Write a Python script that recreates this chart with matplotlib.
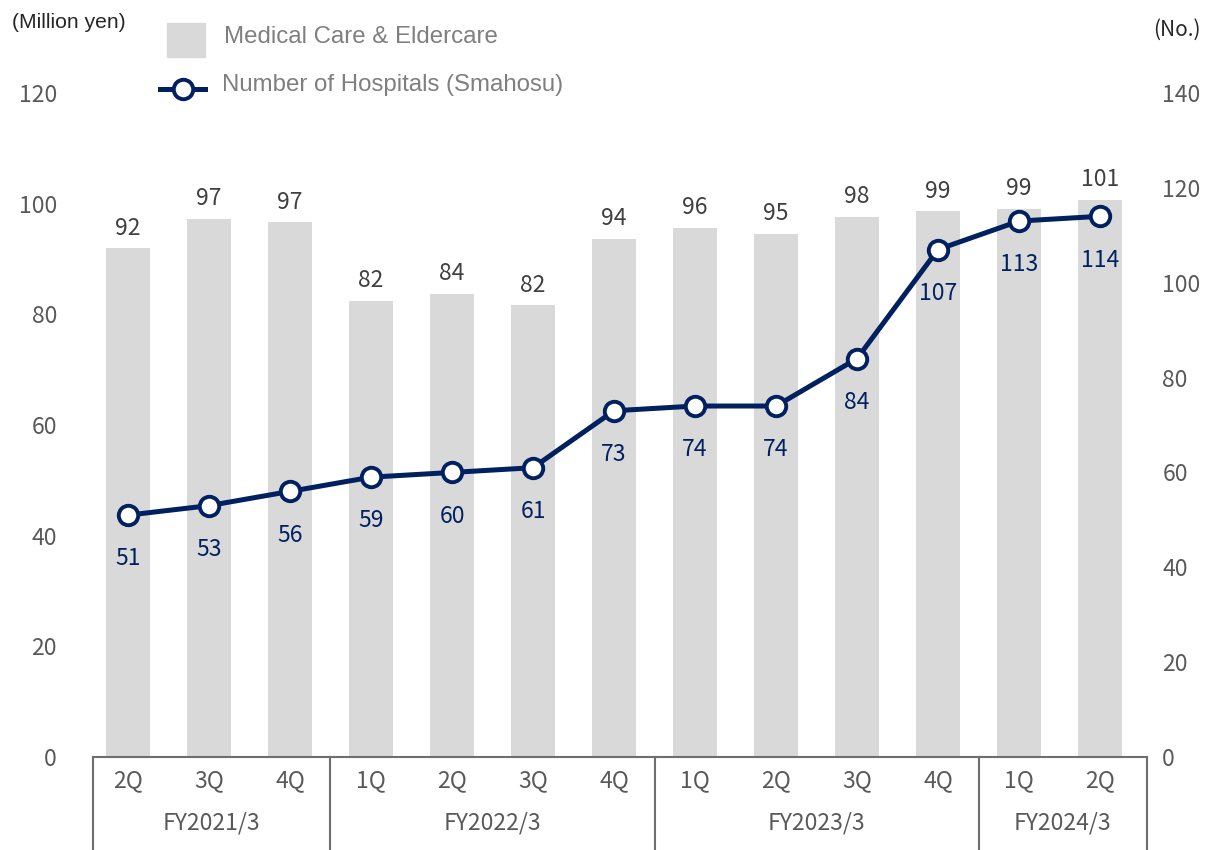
import matplotlib

matplotlib.use("Agg")
import matplotlib.pyplot as plt
from matplotlib.lines import Line2D
from matplotlib.patches import Rectangle
from matplotlib.transforms import blended_transform_factory


QUARTERS = ["2Q", "3Q", "4Q", "1Q", "2Q", "3Q", "4Q", "1Q", "2Q", "3Q", "4Q", "1Q", "2Q"]
FISCAL_YEARS = ["FY2021/3", "FY2022/3", "FY2023/3", "FY2024/3"]
QUARTERS_PER_YEAR = [3, 4, 4, 2]
SALES = [91.9, 97.3, 96.6, 82.4, 83.7, 81.6, 93.6, 95.6, 94.6, 97.6, 98.6, 99.0, 100.6]
HOSPITALS = [51, 53, 56, 59, 60, 61, 73, 74, 74, 84, 107, 113, 114]

BAR_COLOR = "#D9D9D9"
LINE_COLOR = "#002060"
TEXT_COLOR = "#595959"
LEGEND_COLOR = "#7F7F7F"
BOX_COLOR = "#6E6E6E"
JP_FONT = ["Noto Sans CJK JP", "DejaVu Sans"]
LATIN_FONT = ["Liberation Sans", "DejaVu Sans"]

W, H = 1205, 850


def fx(px: float) -> float:
    return px / W


def fy(py: float) -> float:
    return 1 - py / H


def main() -> None:
    plt.rcParams["font.family"] = JP_FONT

    fig = plt.figure(figsize=(W / 100, H / 100), dpi=100)
    ax = fig.add_axes([fx(93), fy(757), fx(1147) - fx(93), fy(93) - fy(757)])
    ax2 = ax.twinx()

    xs = list(range(len(QUARTERS)))
    ax.bar(xs, SALES, width=0.54, color=BAR_COLOR, zorder=1)
    for x, v in zip(xs, SALES):
        ax.annotate(f"{v:.0f}", (x, v), xytext=(0, 10), textcoords="offset points",
                    ha="center", va="baseline", fontsize=16.5, color="#404040")

    ax2.plot(xs, HOSPITALS, color=LINE_COLOR, lw=3.6, marker="o", ms=14,
             mfc="white", mec=LINE_COLOR, mew=2.8, zorder=3)
    for x, v in zip(xs, HOSPITALS):
        ax2.annotate(f"{v}", (x, v), xytext=(0, -31.5), textcoords="offset points",
                     ha="center", va="center", fontsize=16.5, color=LINE_COLOR)

    ax.set_xlim(-0.432, 12.58)
    ax.set_ylim(0, 120)
    ax2.set_ylim(0, 140)
    ax.set_yticks(range(0, 121, 20))
    ax2.set_yticks(range(0, 141, 20))
    ax.set_xticks([])
    ax.tick_params(axis="y", length=0, pad=26, labelsize=16.5, labelcolor=TEXT_COLOR)
    ax2.tick_params(axis="y", length=0, pad=11, labelsize=16.5, labelcolor=TEXT_COLOR)

    for a in (ax, ax2):
        for side in ("top", "left", "right", "bottom"):
            a.spines[side].set_visible(False)
    ax.spines["bottom"].set_visible(True)
    ax.spines["bottom"].set_color(BOX_COLOR)
    ax.spines["bottom"].set_linewidth(1.5)

    # category box below the axis
    trans = blended_transform_factory(ax.transData, fig.transFigure)
    x0, x1 = ax.get_xlim()
    edges = [x0]
    pos = -0.5
    for n in QUARTERS_PER_YEAR[:-1]:
        pos += n
        edges.append(pos)
    edges.append(x1)
    for e in edges:
        fig.add_artist(Line2D([e, e], [fy(757), 0], transform=trans,
                              color=BOX_COLOR, lw=1.5))
    for x, q in zip(xs, QUARTERS):
        fig.text(x, fy(781), q, transform=trans, ha="center", va="center",
                 fontsize=16.5, color=TEXT_COLOR)
    for i, fy_label in enumerate(FISCAL_YEARS):
        mid = (edges[i] + edges[i + 1]) / 2
        fig.text(mid, fy(823), fy_label, transform=trans, ha="center", va="center",
                 fontsize=16.5, color=TEXT_COLOR)

    # unit labels
    fig.text(fx(12), fy(22), "(Million yen)", ha="left", va="center",
             fontsize=15.2, color="#262626", family=LATIN_FONT)
    fig.text(fx(1201), fy(30), "(No.)", ha="right", va="center",
             fontsize=15, color="#262626")

    # legend
    fig.add_artist(Rectangle((fx(167), fy(57)), fx(38), 34 / H,
                             transform=fig.transFigure, color=BAR_COLOR))
    fig.text(fx(224), fy(37), "Medical Care & Eldercare", ha="left", va="center",
             fontsize=17.3, color=LEGEND_COLOR, family=LATIN_FONT)
    fig.add_artist(Line2D([fx(160), fx(205)], [fy(89), fy(89)], transform=fig.transFigure,
                          color=LINE_COLOR, lw=3.6))
    fig.add_artist(Line2D([fx(182.5)], [fy(89)], transform=fig.transFigure,
                          marker="o", ms=14, mfc="white", mec=LINE_COLOR, mew=2.8))
    fig.text(fx(222), fy(85), "Number of Hospitals (Smahosu)", ha="left", va="center",
             fontsize=17.3, color=LEGEND_COLOR, family=LATIN_FONT)

    fig.savefig("out.png", dpi=100)


if __name__ == "__main__":
    main()
